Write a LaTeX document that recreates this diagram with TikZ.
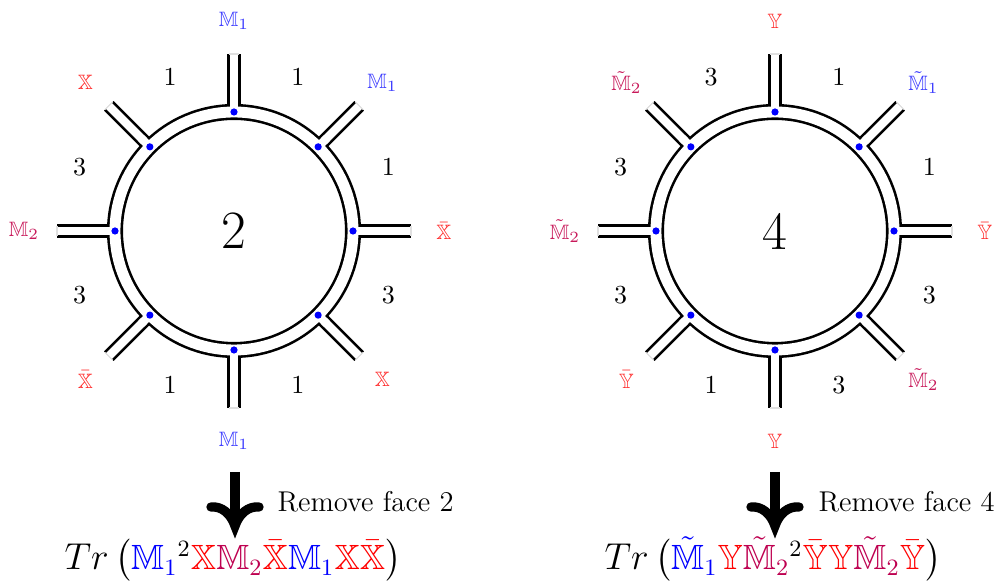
\documentclass[tikz,border=0pt]{standalone}
\usepackage{amsmath,amssymb}
\usetikzlibrary{arrows.meta,calc}
\definecolor{mblue}{RGB}{0,0,255}
\definecolor{mred}{RGB}{255,0,0}
\definecolor{mpurple}{RGB}{190,0,80}
\definecolor{lblue}{RGB}{60,60,255}
\definecolor{lred}{RGB}{255,40,40}
\definecolor{lpurple}{RGB}{200,25,90}
\newcommand{\dM}{\mathbb{M}}
\newcommand{\dX}{\mathbb{X}}
\newcommand{\dY}{\mathbb{Y}}
\begin{document}
\begin{tikzpicture}[x=0.3846pt,y=0.3846pt,
  ribbon/.style={draw=black, line width=1pt, double=white, double distance=4.19pt},
  legline/.style={draw=black, line width=1pt, double=white, double distance=3.23pt},
  eraser/.style={draw=white, line width=3.23pt},
  legend/.style={draw=black!12, line width=0.4pt},
  vdot/.style={fill=blue},
  lab/.style={font=\footnotesize, inner sep=1pt},
  num/.style={font=\normalsize, inner sep=1pt},
  face/.style={font=\huge},
  shaft/.style={line width=4pt},
  barb/.style={line width=3.6pt, line cap=round},
  note/.style={font=\fontsize{11}{13}\selectfont, anchor=west, inner sep=0pt},
  formula/.style={font=\fontsize{13.5}{16}\selectfont, anchor=base, inner sep=0pt}]
\useasboundingbox (0,0) rectangle (1005,586);
\coordinate (cL) at (234,355);
\coordinate (cR) at (775,355);
% ribbons
\foreach \c in {cL,cR}{
  \foreach \a in {0,45,...,315}{
    \draw[legline, shift={(\c)}, rotate=\a] (119,0) -- (177,0);
    \draw[legend, shift={(\c)}, rotate=\a] (177,-5.2) -- (177,5.2);
  }
  \draw[ribbon] (\c) circle (119);
  \foreach \a in {0,45,...,315}{
    \draw[eraser, shift={(\c)}, rotate=\a] (119,0) -- (131,0);
    \fill[vdot] (\c) ++(\a:119) circle (3.6);
  }
}
% centre labels
\node[face] (fL) at (cL) {2};
\node[face] (fR) at (cR) {4};
% outer labels, left
\foreach \a/\t/\k in {90/{$\dM_1$}/lblue, 45/{$\dM_1$}/lblue, 0/{$\bar{\dX}$}/lred,
  -45/{$\dX$}/lred, -90/{$\dM_1$}/lblue, -135/{$\bar{\dX}$}/lred,
  180/{$\dM_2$}/lpurple, 135/{$\dX$}/lred}{
  \node[lab, text=\k] (L\a) at ($(cL)+(\a:210)$) {\t};
}
% outer labels, right
\foreach \a/\t/\k in {90/{$\dY$}/lred, 45/{$\tilde{\dM}_1$}/lblue, 0/{$\bar{\dY}$}/lred,
  -45/{$\tilde{\dM}_2$}/lpurple, -90/{$\dY$}/lred, -135/{$\bar{\dY}$}/lred,
  180/{$\tilde{\dM}_2$}/lpurple, 135/{$\tilde{\dM}_2$}/lpurple}{
  \node[lab, text=\k] (R\a) at ($(cR)+(\a:210)$) {\t};
}
% numbers
\foreach \a/\n in {67.5/1, 22.5/1, -22.5/3, -67.5/1, -112.5/1, -157.5/3, 157.5/3, 112.5/1}{
  \node[num] (Ln\a) at ($(cL)+(\a:167)$) {\n};
}
\foreach \a/\n in {67.5/1, 22.5/1, -22.5/3, -67.5/3, -112.5/1, -157.5/3, 157.5/3, 112.5/3}{
  \node[num] (Rn\a) at ($(cR)+(\a:167)$) {\n};
}
% arrows
\foreach \s/\x in {L/235, R/775}{
  \coordinate (a\s s) at (\x,114);
  \coordinate (a\s e) at (\x,60);
  \draw[shaft] (a\s s) -- (a\s e);
  \draw[barb] ($(a\s e)+(-24,19)$) .. controls ($(a\s e)+(-13,20)$) and ($(a\s e)+(-4,12)$) .. (a\s e)
              .. controls ($(a\s e)+(4,12)$) and ($(a\s e)+(13,20)$) .. ($(a\s e)+(24,19)$);
}
\node[note] (tL) at (277,84) {Remove face 2};
\node[note] (tR) at (818,84) {Remove face 4};
% formulas
\node[formula] (FL) at (233,16) {$Tr\,\bigl({\color{mblue}\dM_1}^2{\color{mred}\dX}{\color{mpurple}\dM_2}{\color{mred}\bar{\dX}}{\color{mblue}\dM_1}{\color{mred}\dX\bar{\dX}}\bigr)$};
\node[formula] (FR) at (773,16) {$Tr\,\bigl({\color{mblue}\tilde{\dM}_1}{\color{mred}\dY}{\color{mpurple}\tilde{\dM}_2}^2{\color{mred}\bar{\dY}\dY}{\color{mpurple}\tilde{\dM}_2}{\color{mred}\bar{\dY}}\bigr)$};
\end{tikzpicture}
\end{document}
